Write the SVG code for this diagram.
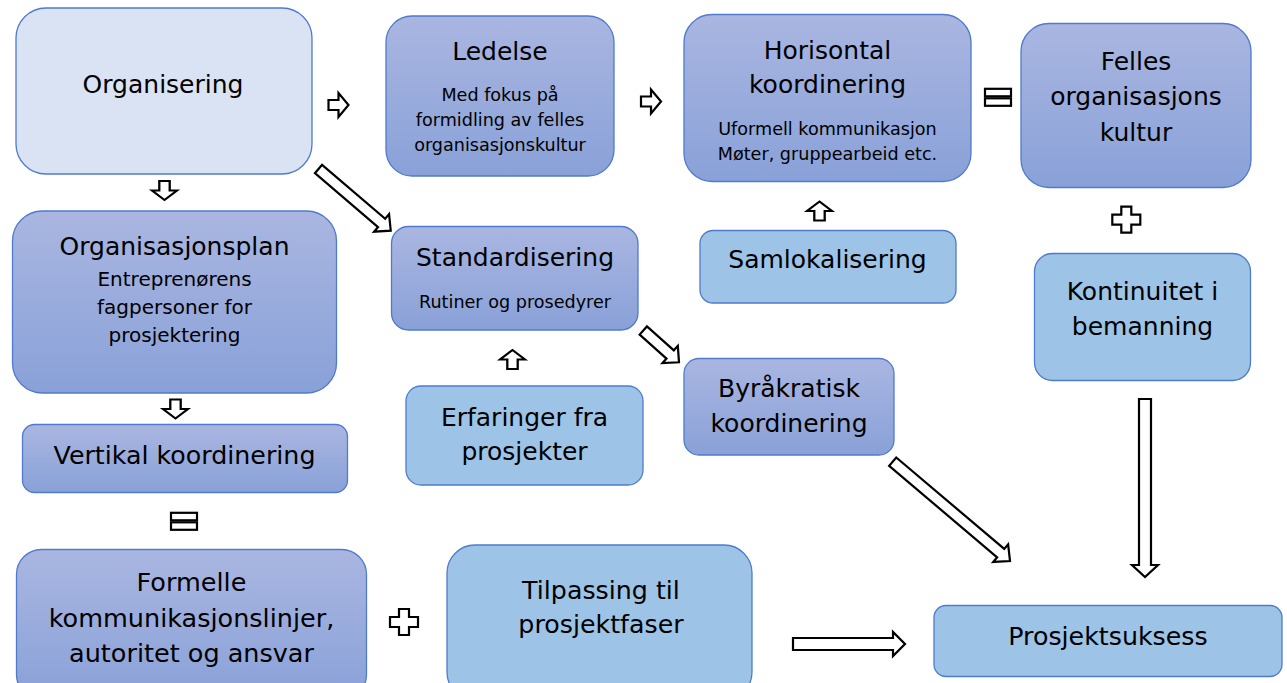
<svg xmlns="http://www.w3.org/2000/svg" xmlns:xlink="http://www.w3.org/1999/xlink" width="1287" height="683" viewBox="0 0 1287 683">
  <defs>
    <linearGradient id="gradBlue" x1="0" y1="0" x2="0" y2="1">
      <stop offset="0" stop-color="#AAB6E1"/>
      <stop offset="1" stop-color="#89A1D8"/>
    </linearGradient>
    <!-- small block arrow pointing right, centred on origin -->
    <polygon id="smallArrow" points="-10,-5 0,-5 0,-12 10,0 0,12 0,5 -10,5"/>
    <!-- plus sign centred on origin -->
    <polygon id="plusSign" points="-5,-13 5,-13 5,-5 14,-5 14,5 5,5 5,13 -5,13 -5,5 -14,5 -14,-5 -5,-5"/>
    <!-- equals sign centred on origin -->
    <g id="equalsSign">
      <rect x="-13" y="-8.5" width="26" height="7.5"/>
      <rect x="-13" y="1" width="26" height="7.5"/>
    </g>
  </defs>
  <style>
    .dark { fill: url(#gradBlue); stroke: #4F7BCC; stroke-width: 1.3; }
    .light { fill: #9DC3E6; stroke: #4F7BCC; stroke-width: 1.3; }
    .pale { fill: #DAE3F3; stroke: #4F7BCC; stroke-width: 1.3; }
    text { font-family: "DejaVu Sans", Verdana, sans-serif; fill: #000; text-anchor: middle; }
    .t { font-size: 25px; }
    .s { font-size: 17.6px; }
    .m { font-size: 20px; }
    .sym { fill: #fff; stroke: #000; stroke-width: 2.2; stroke-linejoin: miter; }
  </style>
  <rect width="1287" height="683" fill="#fff"/>

  <g id="organisering">
    <rect class="pale" x="16" y="8" width="296" height="166" rx="30"/>
    <text class="t" x="163" y="92.5">Organisering</text>
  </g>

  <g id="ledelse">
    <rect class="dark" x="386" y="16" width="228" height="160" rx="26"/>
    <text class="t" x="500" y="59.5">Ledelse</text>
    <text class="s" x="500" y="101">Med fokus på</text>
    <text class="s" x="500" y="126">formidling av felles</text>
    <text class="s" x="500" y="150.5">organisasjonskultur</text>
  </g>

  <g id="horisontal">
    <rect class="dark" x="684" y="14.5" width="287" height="167" rx="28"/>
    <text class="t" x="827.5" y="58.5">Horisontal</text>
    <text class="t" x="827.5" y="92.5">koordinering</text>
    <text class="s" x="827.5" y="135">Uformell kommunikasjon</text>
    <text class="s" x="827.5" y="160">Møter, gruppearbeid etc.</text>
  </g>

  <g id="felles">
    <rect class="dark" x="1021" y="23.5" width="230" height="164" rx="28"/>
    <text class="t" x="1136" y="70">Felles</text>
    <text class="t" x="1136" y="105">organisasjons</text>
    <text class="t" x="1136" y="140.5">kultur</text>
  </g>

  <g id="organisasjonsplan">
    <rect class="dark" x="12.5" y="211" width="324" height="182" rx="30"/>
    <text class="t" x="174.5" y="254.5">Organisasjonsplan</text>
    <text class="m" x="174.5" y="285.5">Entreprenørens</text>
    <text class="m" x="174.5" y="313.5">fagpersoner for</text>
    <text class="m" x="174.5" y="341.5">prosjektering</text>
  </g>

  <g id="vertikal">
    <rect class="dark" x="22.5" y="424.5" width="325" height="68" rx="12"/>
    <text class="t" x="184.5" y="463.5" style="font-size:25.3px">Vertikal koordinering</text>
  </g>

  <g id="standardisering">
    <rect class="dark" x="391.5" y="226.5" width="246.5" height="103.5" rx="17"/>
    <text class="t" x="515" y="265.7">Standardisering</text>
    <text class="s" x="515" y="308.3">Rutiner og prosedyrer</text>
  </g>

  <g id="samlokalisering">
    <rect class="light" x="700" y="230.5" width="256" height="72.5" rx="13"/>
    <text class="t" x="827.5" y="268.3">Samlokalisering</text>
  </g>

  <g id="erfaringer">
    <rect class="light" x="406" y="386" width="237" height="99" rx="15"/>
    <text class="t" x="524.5" y="426">Erfaringer fra</text>
    <text class="t" x="524.5" y="460">prosjekter</text>
  </g>

  <g id="byrakratisk">
    <rect class="dark" x="684" y="358.5" width="210" height="96.5" rx="15"/>
    <text class="t" x="789" y="397.3">Byråkratisk</text>
    <text class="t" x="789" y="431.7">koordinering</text>
  </g>

  <g id="kontinuitet">
    <rect class="light" x="1034.5" y="253.5" width="216" height="127" rx="18"/>
    <text class="t" x="1142.5" y="300">Kontinuitet i</text>
    <text class="t" x="1142.5" y="335">bemanning</text>
  </g>

  <g id="prosjektsuksess">
    <rect class="light" x="934" y="605.5" width="348" height="71" rx="12"/>
    <text class="t" x="1108" y="644.5" style="font-size:25.3px">Prosjektsuksess</text>
  </g>

  <g id="formelle">
    <rect class="dark" x="16.5" y="549.5" width="350" height="150" rx="25"/>
    <text class="t" x="191.5" y="591" style="font-size:25.5px">Formelle</text>
    <text class="t" x="191.5" y="626.5" style="font-size:25.5px">kommunikasjonslinjer,</text>
    <text class="t" x="191.5" y="661.5" style="font-size:25.5px">autoritet og ansvar</text>
  </g>

  <g id="tilpassing">
    <rect class="light" x="447" y="545" width="305" height="155" rx="28"/>
    <text class="t" x="601" y="599.3" style="font-size:25.3px">Tilpassing til</text>
    <text class="t" x="601" y="633.3" style="font-size:25.3px">prosjektfaser</text>
  </g>

  <g id="connectors">
    <!-- small block arrows -->
    <use xlink:href="#smallArrow" class="sym" transform="translate(338.5,105)"/>
    <use xlink:href="#smallArrow" class="sym" transform="translate(651,101.5)"/>
    <use xlink:href="#smallArrow" class="sym" transform="translate(164.5,190.5) rotate(90) scale(0.95,1.04)"/>
    <use xlink:href="#smallArrow" class="sym" transform="translate(175.5,409) rotate(90) scale(0.95,1.04)"/>
    <use xlink:href="#smallArrow" class="sym" transform="translate(512.5,359.5) rotate(-90) scale(0.95,1.04)"/>
    <use xlink:href="#smallArrow" class="sym" transform="translate(819.5,211) rotate(-90) scale(0.95,1.04)"/>

    <!-- long block arrows: tail at origin, pointing along +x -->
    <polygon class="sym" transform="translate(318.5,169) rotate(40.5)" points="0,-5.5 83,-5.5 83,-11.5 95,0 83,11.5 83,5.5 0,5.5"/>
    <polygon class="sym" transform="translate(643.3,330.5) rotate(41.7)" points="0,-5.5 36,-5.5 36,-11.5 47.8,0 36,11.5 36,5.5 0,5.5"/>
    <polygon class="sym" transform="translate(892.7,461.7) rotate(40.25)" points="0,-5.5 141.5,-5.5 141.5,-11.5 153.7,0 141.5,11.5 141.5,5.5 0,5.5"/>
    <polygon class="sym" transform="translate(793,644)" points="0,-6 100,-6 100,-12 112,0 100,12 100,6 0,6"/>
    <polygon class="sym" transform="translate(1145,399) rotate(90)" points="0,-6 166,-6 166,-13 178,0 166,13 166,6 0,6"/>

    <!-- plus and equals signs -->
    <use xlink:href="#plusSign" class="sym" transform="translate(404,622)"/>
    <use xlink:href="#plusSign" class="sym" transform="translate(1126.3,219.7)"/>
    <use xlink:href="#equalsSign" class="sym" transform="translate(998,97.3)"/>
    <use xlink:href="#equalsSign" class="sym" transform="translate(184,521.3)"/>
  </g>
</svg>
